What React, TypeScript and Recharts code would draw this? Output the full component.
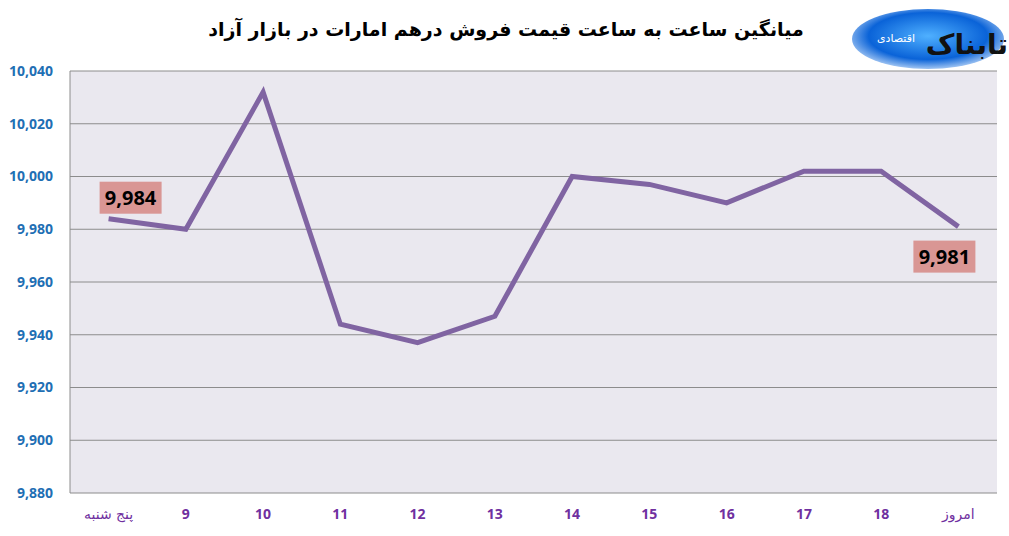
import React from "react";
import { LineChart, Line, XAxis, YAxis, CartesianGrid, LabelList } from "recharts";

const days = ["پنج شنبه", "9", "10", "11", "12", "13", "14", "15", "16", "17", "18", "امروز"];
const prices = [9984, 9980, 10032, 9944, 9937, 9947, 10000, 9997, 9990, 10002, 10002, 9981];
const yTicks = [9880, 9900, 9920, 9940, 9960, 9980, 10000, 10020, 10040];

const data = days.map((day, i) => ({ day, price: prices[i] }));

const fmt = (v: number) => v.toLocaleString("en-US");

const PriceLabel = (props: any) => {
  const { x, y, index, value } = props;
  if (index !== 0 && index !== prices.length - 1) return null;
  const w = 62;
  const h = 32;
  const cx = index === 0 ? x + 22 : x - 14;
  const top = index === 0 ? y - 37 : y + 14;
  return (
    <g>
      <rect x={cx - w / 2} y={top} width={w} height={h} fill="#d99694" />
      <text
        x={cx}
        y={top + h / 2 + 7}
        textAnchor="middle"
        fontSize={20}
        fontWeight="bold"
        fontFamily="'Open Sans', sans-serif"
        fill="#000"
      >
        {fmt(value)}
      </text>
    </g>
  );
};

const DayTick = (props: any) => {
  const { x, y, payload } = props;
  const arabic = isNaN(Number(payload.value));
  return (
    <text
      x={x}
      y={y + 18}
      textAnchor="middle"
      fontSize={arabic ? 14 : 14}
      fontWeight={arabic ? "normal" : "bold"}
      fontFamily={arabic ? "'DejaVu Sans', sans-serif" : "'Open Sans', sans-serif"}
      fill="#7030a0"
    >
      {payload.value}
    </text>
  );
};

export default function App() {
  return (
    <div style={{ position: "absolute", left: 0, top: 0, width: 1009, height: 536, background: "#fff" }}>
      <div
        style={{
          position: "absolute",
          left: 200,
          width: 612,
          top: 18,
          textAlign: "center",
          direction: "rtl",
          fontFamily: "'DejaVu Sans', sans-serif",
          fontWeight: "bold",
          fontSize: 19,
          color: "#000",
        }}
      >
        میانگین ساعت به ساعت قیمت فروش درهم امارات در بازار آزاد
      </div>
      <svg style={{ position: "absolute", left: 846, top: 4 }} width={163} height={72}>
        <defs>
          <radialGradient id="logoBlue" cx="50%" cy="45%" r="60%">
            <stop offset="0%" stopColor="#4fb0ff" />
            <stop offset="65%" stopColor="#0a63d8" />
            <stop offset="100%" stopColor="#cfe3fb" />
          </radialGradient>
        </defs>
        <ellipse cx={82} cy={35} rx={76} ry={30} fill="url(#logoBlue)" />
        <text x={162} y={50} textAnchor="end" fontSize={28} fontWeight="bold" fontFamily="'DejaVu Sans', sans-serif" fill="#111">
          تابناک
        </text>
        <text x={50} y={38} textAnchor="middle" fontSize={11} fontFamily="'DejaVu Sans', sans-serif" fill="#fff">
          اقتصادی
        </text>
      </svg>
      <LineChart width={1009} height={536} data={data} margin={{ top: 71, right: 12, bottom: 0, left: 0 }}>
        <CartesianGrid vertical={false} stroke="#8c8c8c" fill="#eae8ef" />
        <XAxis
          dataKey="day"
          height={43}
          axisLine={false}
          tickLine={false}
          padding={{ left: 38.6, right: 38.6 }}
          tick={<DayTick />}
          interval={0}
        />
        <YAxis
          width={70}
          domain={[9880, 10040]}
          ticks={yTicks}
          tickFormatter={fmt}
          axisLine={{ stroke: "#8c8c8c" }}
          tickLine={false}
          tickSize={0}
          tickMargin={17}
          tick={{ fill: "#1f6fb4", fontSize: 14, fontWeight: "bold", fontFamily: "'Open Sans', sans-serif" }}
        />
        <Line
          dataKey="price"
          stroke="#8064a2"
          strokeWidth={5}
          dot={false}
          isAnimationActive={false}
        >
          <LabelList dataKey="price" content={<PriceLabel />} />
        </Line>
      </LineChart>
    </div>
  );
}
